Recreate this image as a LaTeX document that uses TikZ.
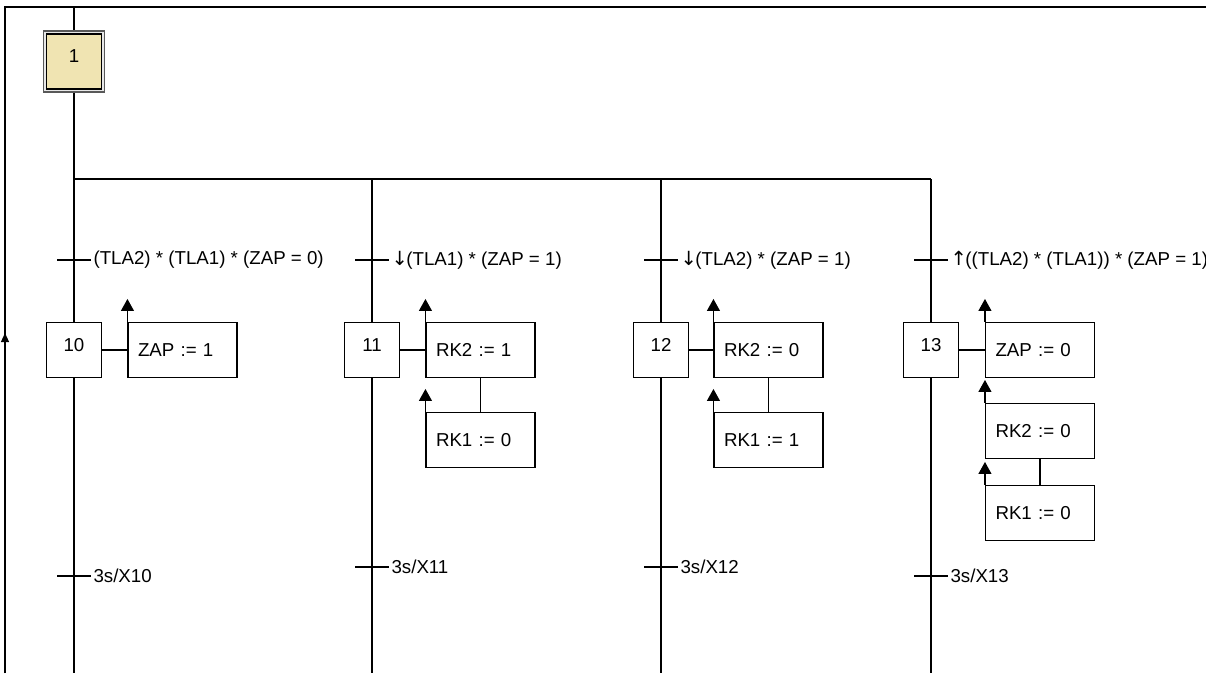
\documentclass[tikz,border=0pt]{standalone}
\usepackage{fontspec}
\setmainfont{Liberation Sans}
\newfontfamily\arrowfont{DejaVu Sans}
\usetikzlibrary{arrows.meta}
\definecolor{stepfill}{RGB}{240,228,178}
\newcommand{\dnarrow}{{\arrowfont\fontsize{19.5}{21}\selectfont ↓}\kern-1.5pt}
\newcommand{\uparr}{{\arrowfont\fontsize{19.5}{21}\selectfont ↑}\kern-1.5pt}
\begin{document}
\begin{tikzpicture}[x=1pt,y=-1pt,line width=1.1pt,
  every node/.style={font=\fontsize{18.7}{21}\selectfont},
  stepbox/.style={draw,fill=white,minimum width=55pt,minimum height=55pt,inner sep=0pt,text height=13pt,text depth=11pt},
  initouter/.style={draw=black!65,fill=gray!18,minimum width=61pt,minimum height=61pt,inner sep=0pt},
  actbox/.style={draw,fill=white,text width=89pt,inner xsep=10pt,inner ysep=0pt,minimum height=55pt,align=left,text height=13pt,text depth=0pt},
  tlabel/.style={anchor=west,inner sep=2pt},
  tick/.style={line width=1.1pt},
  actarrow/.style={-{Triangle[length=12pt,width=13pt]}},
  looparrow/.style={-{Triangle[length=9pt,width=8pt]}},
]
\useasboundingbox (0,0) rectangle (1206,673);

% coordinates
\coordinate (fb) at (5,673);
\coordinate (ft) at (5,7);
\coordinate (fr) at (1206,7);
\coordinate (fa) at (5,333);
\coordinate (top) at (74,7);
\coordinate (d1) at (74,179);
\coordinate (d2) at (372,179);
\coordinate (d3) at (661,179);
\coordinate (d4) at (931,179);
\coordinate (b1) at (74,673);
\coordinate (b2) at (372,673);
\coordinate (b3) at (661,673);
\coordinate (b4) at (931,673);

% return loop frame
\draw (fb) -- (ft) -- (fr);
\draw[looparrow] (fb) -- (fa);

% divergence line
\draw (d1) -- (d4);

% initial step
\node[initouter] (s1o) at (74,61.5) {};
\node[stepbox,fill=stepfill] (s1) at (74,61.5) {1};

% steps
\node[stepbox] (s10) at (74,350) {10};
\node[stepbox] (s11) at (372,350) {11};
\node[stepbox] (s12) at (661,350) {12};
\node[stepbox] (s13) at (931,350) {13};

% vertical links
\draw (top) -- (s1o.north);
\draw (s1o.south) -- (s10.north);
\draw (s10.south) -- (b1);
\draw (d2) -- (s11.north);
\draw (s11.south) -- (b2);
\draw (d3) -- (s12.north);
\draw (s12.south) -- (b3);
\draw (d4) -- (s13.north);
\draw (s13.south) -- (b4);

% actions
\node[actbox] (a10) at (182.5,350) {ZAP := 1};
\node[actbox] (a11) at (480.5,350) {RK2 := 1};
\node[actbox] (a11b) at (480.5,440) {RK1 := 0};
\node[actbox] (a12) at (768.5,350) {RK2 := 0};
\node[actbox] (a12b) at (768.5,440) {RK1 := 1};
\node[actbox] (a13) at (1040,350) {ZAP := 0};
\node[actbox] (a13b) at (1040,431) {RK2 := 0};
\node[actbox] (a13c) at (1040,513) {RK1 := 0};

\draw (s10.east) -- (a10.west);
\draw (s11.east) -- (a11.west);
\draw (s12.east) -- (a12.west);
\draw (s13.east) -- (a13.west);
\draw (a11.south) -- (a11b.north);
\draw (a12.south) -- (a12b.north);
\draw (a13b.south) -- (a13c.north);

\foreach \n in {a10,a11,a11b,a12,a12b,a13,a13b,a13c}
  \draw[actarrow] (\n.north west) -- ++(0,-23);

% transitions, first row
\coordinate (t1) at (74,260);
\coordinate (t2) at (372,260);
\coordinate (t3) at (661,260);
\coordinate (t4) at (931,260);
\draw[tick] ([xshift=-17pt]t1) -- ([xshift=17pt]t1) node[tlabel] (t1l) {(TLA2) * (TLA1) * (ZAP = 0)};
\draw[tick] ([xshift=-17pt]t2) -- ([xshift=17pt]t2) node[tlabel] (t2l) {\dnarrow(TLA1) * (ZAP = 1)};
\draw[tick] ([xshift=-17pt]t3) -- ([xshift=17pt]t3) node[tlabel] (t3l) {\dnarrow(TLA2) * (ZAP = 1)};
\draw[tick] ([xshift=-17pt]t4) -- ([xshift=17pt]t4) node[tlabel] (t4l) {\uparr((TLA2) * (TLA1)) * (ZAP = 1)};

% transitions, second row
\coordinate (u1) at (74,576);
\coordinate (u2) at (372,567);
\coordinate (u3) at (661,567);
\coordinate (u4) at (931,576);
\draw[tick] ([xshift=-17pt]u1) -- ([xshift=17pt]u1) node[tlabel] (u1l) {3s/X10};
\draw[tick] ([xshift=-17pt]u2) -- ([xshift=17pt]u2) node[tlabel] (u2l) {3s/X11};
\draw[tick] ([xshift=-17pt]u3) -- ([xshift=17pt]u3) node[tlabel] (u3l) {3s/X12};
\draw[tick] ([xshift=-17pt]u4) -- ([xshift=17pt]u4) node[tlabel] (u4l) {3s/X13};
\end{tikzpicture}
\end{document}
